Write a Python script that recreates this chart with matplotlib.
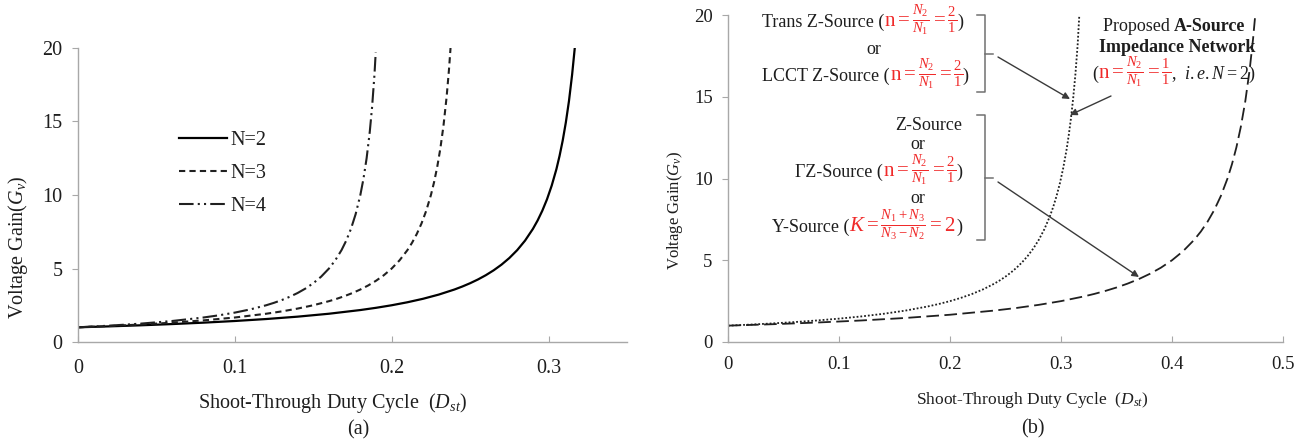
import matplotlib
matplotlib.use("Agg")
import matplotlib.pyplot as plt

plt.rcParams['font.family'] = 'serif'
plt.rcParams['font.serif'] = ['Liberation Serif', 'DejaVu Serif']
plt.rcParams['mathtext.fontset'] = 'custom'
plt.rcParams['mathtext.rm'] = 'Liberation Serif'
plt.rcParams['mathtext.it'] = 'Liberation Serif:italic'
plt.rcParams['mathtext.bf'] = 'Liberation Serif:bold'

# ---------------- data ----------------
# Panel (a)
d_n2 = [0, 0.02, 0.04, 0.06, 0.08, 0.10, 0.12, 0.14, 0.16, 0.18, 0.19, 0.20, 0.21, 0.22, 0.23,
        0.24, 0.245, 0.25, 0.255, 0.26, 0.265, 0.27, 0.275, 0.28, 0.285, 0.29, 0.293, 0.296,
        0.299, 0.302, 0.305, 0.307, 0.309, 0.311, 0.313, 0.315, 0.3167]
g_n2 = [1.0, 1.064, 1.136, 1.220, 1.316, 1.429, 1.563, 1.724, 1.923, 2.174, 2.326, 2.5, 2.703,
        2.941, 3.226, 3.571, 3.774, 4.0, 4.255, 4.545, 4.878, 5.263, 5.714, 6.25, 6.897, 7.692,
        8.264, 8.929, 9.709, 10.64, 11.76, 12.66, 13.70, 14.93, 16.39, 18.18, 20.0]

d_n3 = [0, 0.02, 0.04, 0.06, 0.08, 0.10, 0.12, 0.13, 0.14, 0.15, 0.16, 0.165, 0.17, 0.175,
        0.18, 0.185, 0.19, 0.195, 0.20, 0.205, 0.21, 0.213, 0.216, 0.219, 0.222, 0.225, 0.227,
        0.229, 0.231, 0.233, 0.235, 0.2365, 0.2375]
g_n3 = [1.0, 1.087, 1.190, 1.316, 1.471, 1.667, 1.923, 2.083, 2.273, 2.5, 2.778, 2.941, 3.125,
        3.333, 3.571, 3.846, 4.167, 4.545, 5.0, 5.556, 6.25, 6.757, 7.353, 8.065, 8.929, 10.0,
        10.87, 11.90, 13.16, 14.71, 16.67, 18.52, 20.0]

d_n4 = [0, 0.02, 0.04, 0.06, 0.08, 0.09, 0.10, 0.11, 0.12, 0.125, 0.13, 0.135, 0.14, 0.145,
        0.15, 0.155, 0.16, 0.164, 0.168, 0.171, 0.174, 0.177, 0.18, 0.182, 0.184, 0.186,
        0.1875, 0.189, 0.1898]
g_n4 = [1.0, 1.111, 1.25, 1.429, 1.667, 1.818, 2.0, 2.222, 2.5, 2.667, 2.857, 3.077, 3.333,
        3.636, 4.0, 4.444, 5.0, 5.556, 6.25, 6.897, 7.692, 8.696, 10.0, 11.11, 12.5, 14.29,
        16.0, 18.18, 19.7]

labels_a = ['N=2', 'N=3', 'N=4']

# Panel (b)
d_dot = [0, 0.02, 0.04, 0.06, 0.08, 0.10, 0.12, 0.14, 0.16, 0.18, 0.19, 0.20, 0.21, 0.22, 0.23,
         0.24, 0.245, 0.25, 0.255, 0.26, 0.265, 0.27, 0.275, 0.28, 0.285, 0.29, 0.293, 0.296,
         0.299, 0.302, 0.305, 0.307, 0.309, 0.311, 0.313, 0.315, 0.3165]
g_dot = [1.0, 1.064, 1.136, 1.220, 1.316, 1.429, 1.563, 1.724, 1.923, 2.174, 2.326, 2.5, 2.703,
         2.941, 3.226, 3.571, 3.774, 4.0, 4.255, 4.545, 4.878, 5.263, 5.714, 6.25, 6.897, 7.692,
         8.264, 8.929, 9.709, 10.64, 11.76, 12.66, 13.70, 14.93, 16.39, 18.18, 20.0]

d_dash = [0, 0.04, 0.08, 0.12, 0.16, 0.20, 0.24, 0.26, 0.28, 0.30, 0.32, 0.33, 0.34, 0.35,
          0.36, 0.37, 0.38, 0.39, 0.40, 0.41, 0.42, 0.426, 0.432, 0.438, 0.444, 0.45, 0.454,
          0.458, 0.462, 0.466, 0.47, 0.473, 0.475]
g_dash = [1.0, 1.087, 1.19, 1.316, 1.471, 1.667, 1.923, 2.083, 2.273, 2.5, 2.778, 2.941, 3.125,
          3.333, 3.571, 3.846, 4.167, 4.545, 5.0, 5.556, 6.25, 6.757, 7.353, 8.065, 8.929, 10.0,
          10.87, 11.90, 13.16, 14.71, 16.67, 18.52, 20.0]

xticks_a = [0, 0.1, 0.2, 0.3]
xticks_b = [0, 0.1, 0.2, 0.3, 0.4, 0.5]
yticks = [0, 5, 10, 15, 20]

# ---------------- figure ----------------
W, H = 1304, 447
fig = plt.figure(figsize=(W / 100, H / 100), dpi=100)
fig.patch.set_facecolor('white')

def fx(px):
    return px / W

def fy(py):
    return 1 - py / H

SPINE = '#a8a8a8'
TXT = '#1e1e1e'
RED = '#f02a2a'

axA = fig.add_axes([fx(78), fy(342), (627 - 78) / W, (342 - 48) / H])
axB = fig.add_axes([fx(728), fy(342), (1283 - 728) / W, (342 - 15) / H])

for ax, xt, xmax, fs, xpad in [(axA, xticks_a, 0.35, 14.5, 12), (axB, xticks_b, 0.5, 13.5, 10)]:
    ax.set_xlim(0, xmax)
    ax.set_ylim(0, 20)
    ax.set_xticks(xt)
    ax.set_xticklabels(['0' if v == 0 else f'{v:g}' for v in xt])
    ax.set_yticks(yticks)
    for s in ['top', 'right']:
        ax.spines[s].set_visible(False)
    for s in ['left', 'bottom']:
        ax.spines[s].set_color(SPINE)
        ax.spines[s].set_linewidth(1.0)
    ax.tick_params(axis='x', direction='in', length=4, color=SPINE, labelsize=fs,
                   labelcolor=TXT, pad=xpad)
    ax.tick_params(axis='y', direction='out', length=4, color=SPINE, labelsize=fs,
                   labelcolor=TXT, pad=7)

# Panel (a) curves
l2, = axA.plot(d_n2, g_n2, color='black', lw=1.6, ls='-', label=labels_a[0])
l3, = axA.plot(d_n3, g_n3, color='#202020', lw=1.5, ls=(0, (3, 2)), label=labels_a[1])
l4, = axA.plot(d_n4, g_n4, color='#202020', lw=1.5, ls=(0, (7, 2, 1, 2, 1, 2)), label=labels_a[2])
leg = axA.legend(handles=[l2, l3, l4], loc='upper left',
                 bbox_to_anchor=((179 - 78) / (627 - 78), (342 - 131) / 294),
                 frameon=False, fontsize=14.5, handlelength=2.4, handletextpad=0.15,
                 labelspacing=0.68, borderpad=0, borderaxespad=0)
for t in leg.get_texts():
    t.set_color(TXT)

# Panel (b) curves
axB.plot(d_dot, g_dot, color='#202020', lw=1.3, ls=(0, (1, 1.1)))
axB.plot(d_dash, g_dash, color='#202020', lw=1.3, ls=(0, (7, 3)))

# axis labels
fig.text(fx(18), fy(247), 'Voltage Gain$(G_v)$', rotation=90, ha='center', va='center',
         fontsize=14.5, color=TXT)
fig.text(fx(675), fy(210), 'Voltage Gain$(G_v)$', rotation=90, ha='center', va='center',
         fontsize=12, color=TXT)
fig.text(fx(333), fy(403), 'Shoot-Through Duty Cycle  $(D_{st})$', ha='center', va='center',
         fontsize=14.5, color=TXT)
fig.text(fx(1032), fy(400), 'Shoot-Through Duty Cycle  $(D_{st})$', ha='center', va='center',
         fontsize=12.5, color=TXT)
fig.text(fx(358), fy(430), '(a)', ha='center', va='center', fontsize=14.5, color=TXT)
fig.text(fx(1033), fy(429), '(b)', ha='center', va='center', fontsize=14.5, color=TXT)

# ---------------- annotations on panel (b) ----------------
renderer = fig.canvas.get_renderer()

def pxd(px, py):
    """pixel position in the picture -> data coordinates of panel (b)"""
    return ((px - 728) / 1110.0, (342 - py) / 16.35)

def rich(px, py, pieces, ha='left'):
    x, y = pxd(px, py)
    texts = []
    for s, c, w, fs in pieces:
        t = axB.text(x, y, s, color=c, fontsize=fs, fontweight=w, va='baseline', ha='left')
        texts.append(t)
    widths = [t.get_window_extent(renderer).width for t in texts]
    total = sum(widths)
    x0 = axB.transData.transform((x, y))[0]
    if ha == 'center':
        x0 -= total / 2
    elif ha == 'right':
        x0 -= total
    cur = x0
    inv = axB.transData.inverted()
    for t, wd in zip(texts, widths):
        t.set_x(inv.transform((cur, 0))[0])
        cur += wd

FS = 13
MFS = 15
frac21 = r'$\mathrm{n}=\frac{N_2}{N_1}=\frac{2}{1}$'
frac11 = r'$\mathrm{n}=\frac{N_2}{N_1}=\frac{1}{1}$'
fracK = r'$K=\frac{N_1+N_3}{N_3-N_2}=2$'

rich(762, 27, [('Trans Z-Source (', TXT, 'normal', FS), (frac21, RED, 'normal', MFS),
               (')', TXT, 'normal', FS)])
rich(874, 54, [('or', TXT, 'normal', FS)], ha='center')
rich(762, 81, [('LCCT Z-Source (', TXT, 'normal', FS), (frac21, RED, 'normal', MFS),
               (')', TXT, 'normal', FS)])

rich(962, 130, [('Z-Source', TXT, 'normal', FS)], ha='right')
rich(918, 149, [('or', TXT, 'normal', FS)], ha='center')
rich(962, 177, [('\u0393Z-Source (', TXT, 'normal', FS), (frac21, RED, 'normal', MFS),
                (')', TXT, 'normal', FS)], ha='right')
rich(918, 203, [('or', TXT, 'normal', FS)], ha='center')
rich(962, 232, [('Y-Source (', TXT, 'normal', FS), (fracK, RED, 'normal', MFS),
                (')', TXT, 'normal', FS)], ha='right')

rich(1174, 31, [('Proposed ', TXT, 'normal', FS), ('A-Source', TXT, 'bold', FS)], ha='center')
rich(1177, 52, [('Impedance Network', TXT, 'bold', FS)], ha='center')
rich(1174, 79, [('(', TXT, 'normal', FS), (frac11, RED, 'normal', MFS),
                (r',  $i.e.N=2$)', TXT, 'normal', FS)], ha='center')

# brackets
BR = '#707070'
def bracket(top, bot, mid):
    xs0 = pxd(977, 0)[0]
    xs1 = pxd(985, 0)[0]
    xs2 = pxd(993, 0)[0]
    yt = pxd(0, top)[1]
    yb = pxd(0, bot)[1]
    ym = pxd(0, mid)[1]
    axB.plot([xs0, xs1, xs1, xs0], [yt, yt, yb, yb], color=BR, lw=1.1, clip_on=False)
    axB.plot([xs1, xs2], [ym, ym], color=BR, lw=1.1, clip_on=False)

bracket(15, 92, 54)
bracket(115, 240, 178)

ARW = dict(arrowstyle='-|>', color='#3a3a3a', lw=1.0, mutation_scale=10, shrinkA=0, shrinkB=0)
axB.annotate('', xy=pxd(1070, 99), xytext=pxd(998, 57), arrowprops=ARW)
axB.annotate('', xy=pxd(1139, 277), xytext=pxd(998, 182), arrowprops=ARW)
axB.annotate('', xy=pxd(1070, 115), xytext=pxd(1111, 96), arrowprops=ARW)

fig.savefig('out.png', dpi=100, facecolor='white')
